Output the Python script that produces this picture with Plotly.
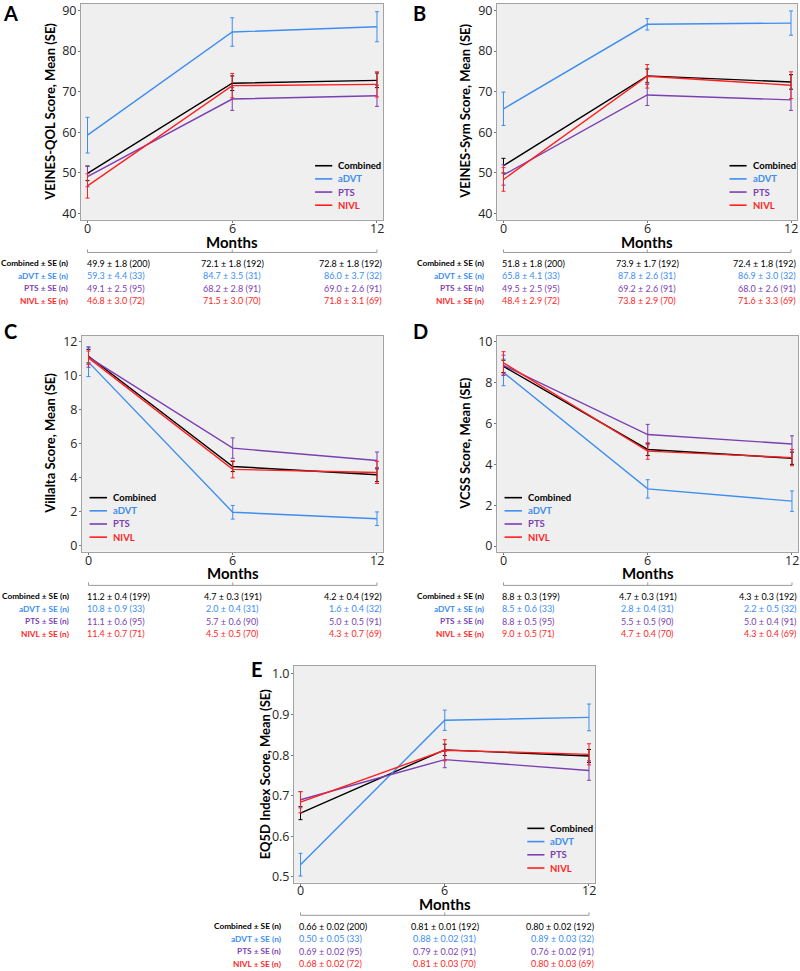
import plotly.graph_objects as go

W, H = 800, 971

months = [0, 6, 12]
month_labels = ["0", "6", "12"]
groups = ["Combined", "aDVT", "PTS", "NIVL"]
colors = {"Combined": "#000000", "aDVT": "#3d8ef0", "PTS": "#7b3fb2", "NIVL": "#ff1f1f"}
row_labels = ["Combined ± SE (n)", "aDVT ± SE (n)", "PTS ± SE (n)", "NIVL ± SE (n)"]

# ---------- Panel A: VEINES-QOL ----------
a_mean = {"Combined": [49.9, 72.1, 72.8], "aDVT": [59.3, 84.7, 86.0],
          "PTS": [49.1, 68.2, 69.0], "NIVL": [46.8, 71.5, 71.8]}
a_se = {"Combined": [1.8, 1.8, 1.8], "aDVT": [4.4, 3.5, 3.7],
        "PTS": [2.5, 2.8, 2.6], "NIVL": [3.0, 3.0, 3.1]}
a_table = {"Combined": ["49.9 ± 1.8 (200)", "72.1 ± 1.8 (192)", "72.8 ± 1.8 (192)"],
           "aDVT": ["59.3 ± 4.4 (33)", "84.7 ± 3.5 (31)", "86.0 ± 3.7 (32)"],
           "PTS": ["49.1 ± 2.5 (95)", "68.2 ± 2.8 (91)", "69.0 ± 2.6 (91)"],
           "NIVL": ["46.8 ± 3.0 (72)", "71.5 ± 3.0 (70)", "71.8 ± 3.1 (69)"]}
a_yticks = [40, 50, 60, 70, 80, 90]

# ---------- Panel B: VEINES-Sym ----------
b_mean = {"Combined": [51.8, 73.9, 72.4], "aDVT": [65.8, 86.6, 86.9],
          "PTS": [49.5, 69.2, 68.0], "NIVL": [48.4, 73.8, 71.6]}
b_se = {"Combined": [1.8, 1.7, 1.8], "aDVT": [4.1, 1.4, 3.0],
        "PTS": [2.5, 2.6, 2.6], "NIVL": [2.9, 2.9, 3.3]}
b_table = {"Combined": ["51.8 ± 1.8 (200)", "73.9 ± 1.7 (192)", "72.4 ± 1.8 (192)"],
           "aDVT": ["65.8 ± 4.1 (33)", "87.8 ± 2.6 (31)", "86.9 ± 3.0 (32)"],
           "PTS": ["49.5 ± 2.5 (95)", "69.2 ± 2.6 (91)", "68.0 ± 2.6 (91)"],
           "NIVL": ["48.4 ± 2.9 (72)", "73.8 ± 2.9 (70)", "71.6 ± 3.3 (69)"]}
b_yticks = [40, 50, 60, 70, 80, 90]

# ---------- Panel C: Villalta ----------
c_mean = {"Combined": [11.15, 4.67, 4.18], "aDVT": [10.8, 1.98, 1.6],
          "PTS": [11.1, 5.75, 5.02], "NIVL": [11.05, 4.5, 4.32]}
c_se = {"Combined": [0.4, 0.3, 0.4], "aDVT": [0.85, 0.4, 0.4],
        "PTS": [0.6, 0.6, 0.5], "NIVL": [0.4, 0.5, 0.65]}
c_table = {"Combined": ["11.2 ± 0.4 (199)", "4.7 ± 0.3 (191)", "4.2 ± 0.4 (192)"],
           "aDVT": ["10.8 ± 0.9 (33)", "2.0 ± 0.4 (31)", "1.6 ± 0.4 (32)"],
           "PTS": ["11.1 ± 0.6 (95)", "5.7 ± 0.6 (90)", "5.0 ± 0.5 (91)"],
           "NIVL": ["11.4 ± 0.7 (71)", "4.5 ± 0.5 (70)", "4.3 ± 0.7 (69)"]}
c_yticks = [0, 2, 4, 6, 8, 10, 12]

# ---------- Panel D: VCSS ----------
d_mean = {"Combined": [8.8, 4.73, 4.3], "aDVT": [8.5, 2.8, 2.2],
          "PTS": [8.85, 5.46, 5.0], "NIVL": [8.97, 4.65, 4.33]}
d_se = {"Combined": [0.3, 0.3, 0.3], "aDVT": [0.65, 0.45, 0.5],
        "PTS": [0.5, 0.5, 0.4], "NIVL": [0.55, 0.4, 0.4]}
d_table = {"Combined": ["8.8 ± 0.3 (199)", "4.7 ± 0.3 (191)", "4.3 ± 0.3 (192)"],
           "aDVT": ["8.5 ± 0.6 (33)", "2.8 ± 0.4 (31)", "2.2 ± 0.5 (32)"],
           "PTS": ["8.8 ± 0.5 (95)", "5.5 ± 0.5 (90)", "5.0 ± 0.4 (91)"],
           "NIVL": ["9.0 ± 0.5 (71)", "4.7 ± 0.4 (70)", "4.3 ± 0.4 (69)"]}
d_yticks = [0, 2, 4, 6, 8, 10]

# ---------- Panel E: EQ5D ----------
e_mean = {"Combined": [0.657, 0.813, 0.798], "aDVT": [0.53, 0.886, 0.893],
          "PTS": [0.69, 0.789, 0.762], "NIVL": [0.684, 0.812, 0.802]}
e_se = {"Combined": [0.016, 0.014, 0.016], "aDVT": [0.028, 0.025, 0.033],
        "PTS": [0.02, 0.02, 0.024], "NIVL": [0.026, 0.026, 0.026]}
e_table = {"Combined": ["0.66 ± 0.02 (200)", "0.81 ± 0.01 (192)", "0.80 ± 0.02 (192)"],
           "aDVT": ["0.50 ± 0.05 (33)", "0.88 ± 0.02 (31)", "0.89 ± 0.03 (32)"],
           "PTS": ["0.69 ± 0.02 (95)", "0.79 ± 0.02 (91)", "0.76 ± 0.02 (91)"],
           "NIVL": ["0.68 ± 0.02 (72)", "0.81 ± 0.03 (70)", "0.80 ± 0.03 (69)"]}
e_yticks = [0.5, 0.6, 0.7, 0.8, 0.9, 1.0]

FONT = "Lato, 'Open Sans', sans-serif"
TICKFONT = "'Open Sans', sans-serif"

panels = [
    dict(letter="A", box=(81, 383, 1, 218), yr=[38.5, 91.6], yt=a_yticks, fmt="",
         title="VEINES-QOL Score, Mean (SE)", mean=a_mean, se=a_se, table=a_table,
         leg="right", lpos=(10, 10), ytx=50, table_y=251),
    dict(letter="B", box=(497, 797, 1, 218), yr=[38.5, 91.6], yt=b_yticks, fmt="",
         title="VEINES-Sym Score, Mean (SE)", mean=b_mean, se=b_se, table=b_table,
         leg="right", lpos=(419, 10), ytx=465, table_y=251),
    dict(letter="C", box=(82, 383, 335, 552), yr=[-0.33, 12.34], yt=c_yticks, fmt="",
         title="Villalta Score, Mean (SE)", mean=c_mean, se=c_se, table=c_table,
         leg="left", lpos=(10, 330), ytx=50, table_y=586),
    dict(letter="D", box=(497, 798, 335, 552), yr=[-0.27, 10.29], yt=d_yticks, fmt="",
         title="VCSS Score, Mean (SE)", mean=d_mean, se=d_se, table=d_table,
         leg="left", lpos=(420, 330), ytx=465, table_y=586),
    dict(letter="E", box=(294, 595, 667, 885), yr=[0.486, 1.02], yt=e_yticks, fmt=".1f",
         title="EQ5D Index Score, Mean (SE)", mean=e_mean, se=e_se, table=e_table,
         leg="right", lpos=(257, 670), ytx=265, table_y=918),
]

def px(x):
    return x / W

def py(y):
    return 1 - y / H

fig = go.Figure()
annotations = []
shapes = []
layout_axes = {}

for i, p in enumerate(panels):
    n = "" if i == 0 else str(i + 1)
    xa, ya = "x" + n, "y" + n
    l, r, t, b = p["box"]
    common = dict(ticks="outside", ticklen=2, tickcolor="#777", showline=True,
                  mirror=True, linecolor="#a3a3a3", linewidth=1, showgrid=False,
                  zeroline=False, tickfont=dict(family=TICKFONT, size=12.5, color="#262626"))
    layout_axes["xaxis" + n] = dict(
        domain=[px(l), px(r)], anchor=ya, range=[-0.27, 12.25],
        tickvals=months, showticklabels=False, **common)
    layout_axes["yaxis" + n] = dict(
        domain=[py(b), py(t)], anchor=xa, range=p["yr"], tickvals=p["yt"],
        tickformat=p["fmt"], ticklabelstandoff=-1, **common)
    for g in groups:
        fig.add_trace(go.Scatter(
            x=months, y=p["mean"][g], mode="lines", xaxis=xa, yaxis=ya,
            line=dict(color=colors[g], width=1.4), showlegend=False,
            error_y=dict(type="data", array=p["se"][g], color=colors[g],
                         thickness=1, width=2),
        ))
    # x tick labels
    for m, lab in zip(months, month_labels):
        annotations.append(dict(text=lab, xref=xa, yref="paper", x=m, y=py(b + 8.5),
                                showarrow=False, xanchor="center", yanchor="middle",
                                font=dict(family=TICKFONT, size=12.5, color="#262626")))
    annotations.append(dict(text="<b>%s</b>" % p["letter"], xref="paper", yref="paper",
                            x=px(p["lpos"][0]), y=py(p["lpos"][1]), showarrow=False,
                            xanchor="center", yanchor="middle",
                            font=dict(family=FONT, size=20, color="#000")))
    annotations.append(dict(text="<b>%s</b>" % p["title"], xref="paper", yref="paper",
                            x=px(p["ytx"]), y=py((t + b) / 2), textangle=-90,
                            showarrow=False, xanchor="center", yanchor="middle",
                            font=dict(family=FONT, size=13, color="#000")))
    annotations.append(dict(text="<b>Months</b>", xref=xa, yref="paper", x=6,
                            y=py(b + 22), showarrow=False, xanchor="center",
                            yanchor="middle", font=dict(family=FONT, size=15, color="#000")))
    if p["leg"] == "right":
        lx0, lx1, tx = 0.775, 0.832, 0.845
    else:
        lx0, lx1, tx = 0.025, 0.083, 0.097
    for k, g in enumerate(groups):
        ly = 0.25 - k * 0.061
        shapes.append(dict(type="line", xref=xa + " domain", yref=ya + " domain",
                           x0=lx0, x1=lx1, y0=ly, y1=ly,
                           line=dict(color=colors[g], width=1.6)))
        annotations.append(dict(text="<b>%s</b>" % g, xref=xa + " domain",
                                yref=ya + " domain", x=tx, y=ly, showarrow=False,
                                xanchor="left", yanchor="middle",
                                font=dict(family=FONT, size=9.5, color=colors[g])))
    ty = p["table_y"]
    shapes.append(dict(type="line", xref=xa, yref="paper", x0=0, x1=12,
                       y0=py(ty), y1=py(ty), line=dict(color="#999", width=1)))
    for m in months:
        shapes.append(dict(type="line", xref=xa, yref="paper", x0=m, x1=m,
                           y0=py(ty), y1=py(ty - 3), line=dict(color="#999", width=1)))
    for k, g in enumerate(groups):
        ry = ty + 11 + k * 12.6
        annotations.append(dict(text="<b>%s</b>" % row_labels[k], xref="paper", yref="paper",
                                x=px(l - 11), y=py(ry), showarrow=False,
                                xanchor="right", yanchor="middle",
                                font=dict(family=FONT, size=8.3, color=colors[g])))
        for j, m in enumerate(months):
            anc = ["left", "center", "right"][j]
            shift = [-3, 0, 7][j]
            annotations.append(dict(text=p["table"][g][j], xref=xa, yref="paper",
                                    x=m, y=py(ry), xshift=shift, showarrow=False,
                                    xanchor=anc, yanchor="middle",
                                    font=dict(family=FONT, size=9, color=colors[g])))

fig.update_layout(
    width=W, height=H, margin=dict(l=0, r=0, t=0, b=0),
    paper_bgcolor="white", plot_bgcolor="#efefef", showlegend=False,
    annotations=annotations, shapes=shapes, font=dict(family=FONT),
    **layout_axes,
)

fig.write_html("out.html", config={"displayModeBar": False},
               post_script="document.body.style.margin='0';"
                           "document.body.style.overflow='hidden';")
